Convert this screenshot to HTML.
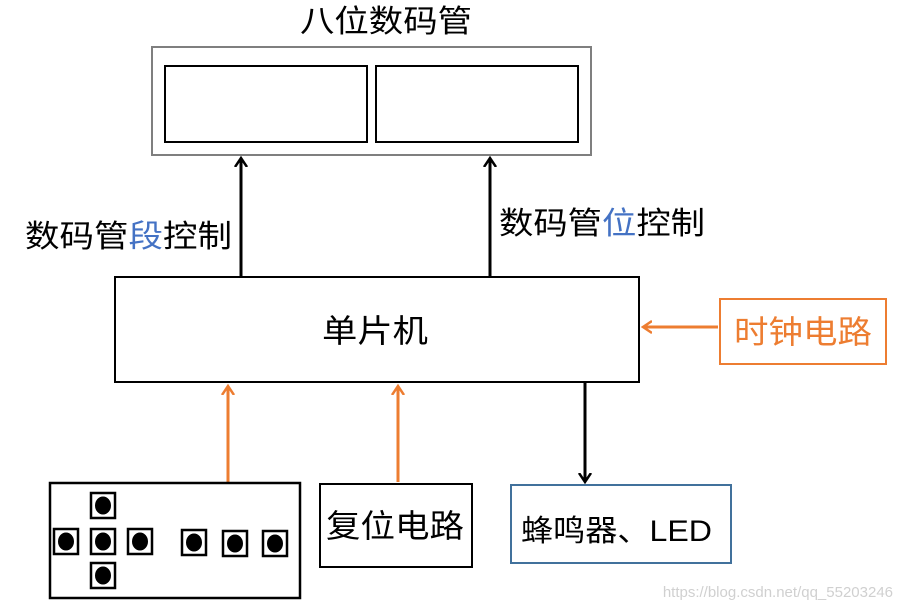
<!DOCTYPE html>
<html><head><meta charset="utf-8"><style>body{margin:0;background:#fff}svg{display:block}text{font-family:"Liberation Sans","Noto Sans CJK SC",sans-serif}</style></head><body>
<svg width="902" height="609" viewBox="0 0 902 609" xmlns="http://www.w3.org/2000/svg">
<defs>
<marker id="kb" markerWidth="14" markerHeight="14" refX="7" refY="7" orient="auto" markerUnits="userSpaceOnUse"><path d="M0,1 L9,7 L0,13" fill="none" stroke="#000" stroke-width="2.5"/></marker>
<marker id="ko" markerWidth="14" markerHeight="14" refX="7" refY="7" orient="auto" markerUnits="userSpaceOnUse"><path d="M0,1 L9,7 L0,13" fill="none" stroke="#ED7D31" stroke-width="2.5"/></marker>
</defs>
<text x="300" y="32" font-size="31" textLength="172" lengthAdjust="spacingAndGlyphs">八位数码管</text>
<rect x="152" y="47" width="439" height="108" fill="none" stroke="#7f7f7f" stroke-width="2"/>
<rect x="165" y="66" width="202" height="76" fill="none" stroke="#000" stroke-width="2"/>
<rect x="376" y="66" width="202" height="76" fill="none" stroke="#000" stroke-width="2"/>
<line x1="241" y1="277" x2="241" y2="160" stroke="#000" stroke-width="3" marker-end="url(#kb)"/>
<line x1="490" y1="277" x2="490" y2="160" stroke="#000" stroke-width="3" marker-end="url(#kb)"/>
<text x="25" y="247" font-size="31" textLength="207" lengthAdjust="spacingAndGlyphs">数码管<tspan fill="#4472C4">段</tspan>控制</text>
<text x="499" y="234" font-size="31" textLength="206" lengthAdjust="spacingAndGlyphs">数码管<tspan fill="#4472C4">位</tspan>控制</text>
<rect x="115" y="277" width="524" height="105" fill="none" stroke="#000" stroke-width="2"/>
<text x="322" y="342" font-size="32" textLength="106" lengthAdjust="spacingAndGlyphs">单片机</text>
<rect x="720" y="299" width="166" height="65" fill="none" stroke="#ED7D31" stroke-width="2"/>
<text x="734" y="343" font-size="32" fill="#ED7D31" textLength="138" lengthAdjust="spacingAndGlyphs">时钟电路</text>
<line x1="718" y1="327" x2="645" y2="327" stroke="#ED7D31" stroke-width="3" marker-end="url(#ko)"/>
<line x1="228" y1="482" x2="228" y2="388" stroke="#ED7D31" stroke-width="3" marker-end="url(#ko)"/>
<line x1="398" y1="482" x2="398" y2="388" stroke="#ED7D31" stroke-width="3" marker-end="url(#ko)"/>
<line x1="585" y1="382" x2="585" y2="480" stroke="#000" stroke-width="3" marker-end="url(#kb)"/>
<rect x="50" y="483" width="250" height="115" fill="none" stroke="#000" stroke-width="2.5"/>
<g fill="none" stroke="#000" stroke-width="2.5">
<rect x="91" y="493" width="24" height="25"/><rect x="54" y="529" width="24" height="25"/><rect x="91" y="529" width="24" height="25"/><rect x="128" y="529" width="24" height="25"/><rect x="91" y="563" width="24" height="25"/>
<rect x="182" y="530" width="24" height="25"/><rect x="223" y="531" width="24" height="25"/><rect x="263" y="531" width="24" height="25"/>
</g>
<g fill="#000">
<ellipse cx="103" cy="505.5" rx="8" ry="9"/><ellipse cx="66" cy="541.5" rx="8" ry="9"/><ellipse cx="103" cy="541.5" rx="8" ry="9"/><ellipse cx="140" cy="541.5" rx="8" ry="9"/><ellipse cx="103" cy="575.5" rx="8" ry="9"/>
<ellipse cx="194" cy="542.5" rx="8" ry="9"/><ellipse cx="235" cy="543.5" rx="8" ry="9"/><ellipse cx="275" cy="543.5" rx="8" ry="9"/>
</g>
<rect x="320" y="484" width="152" height="83" fill="none" stroke="#000" stroke-width="2"/>
<text x="326" y="537" font-size="32" textLength="138" lengthAdjust="spacingAndGlyphs">复位电路</text>
<rect x="511" y="485" width="220" height="78" fill="none" stroke="#41719C" stroke-width="2"/>
<text x="521" y="541" font-size="30" textLength="191" lengthAdjust="spacingAndGlyphs">蜂鸣器、LED</text>
<text x="893" y="597" font-size="15" fill="#d0d0d0" text-anchor="end">https://blog.csdn.net/qq_55203246</text>
</svg>
</body></html>
